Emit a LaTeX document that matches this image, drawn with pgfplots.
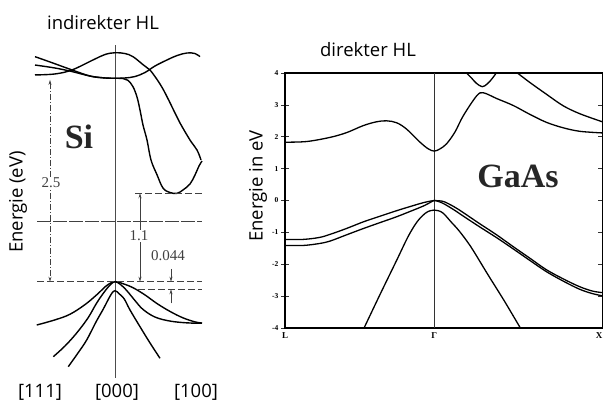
\documentclass[border=0pt]{standalone}
\usepackage{fontspec}
\setmainfont{Open Sans}
\newfontfamily\tnr{Liberation Serif}
\usepackage{pgfplots}
\pgfplotsset{compat=1.18}
\usetikzlibrary{arrows.meta}
\tikzset{band/.style={black,line width=1.4pt,smooth,tension=0.6},
         gband/.style={black,line width=1.3pt,smooth,tension=0.55},
         ann/.style={line width=0.7pt,black!75}}
\begin{document}
\begin{tikzpicture}
\useasboundingbox (0pt,0pt) rectangle (603pt,405pt);
% ---------------- Si ----------------
\begin{axis}[at={(0pt,0pt)},anchor=south west,width=210pt,height=405pt,scale only axis,
  hide axis,clip=false,xmin=-115,xmax=95,ymin=-1.534,ymax=3.504]
% vertical Gamma line
\draw[line width=0.6pt,black!70] (axis cs:0,2.94) -- (axis cs:0,-1.198);
% conduction bands
\addplot[band] coordinates {(-80,2.799) (-65,2.733) (-43,2.634) (-25,2.558) (-12,2.536) (0,2.530)};
\addplot[band] coordinates {(-80,2.695) (-60,2.658) (-43,2.614) (-25,2.558) (-10,2.534) (0,2.530)};
\addplot[band] coordinates {(-80,2.572) (-60,2.584) (-43,2.634) (-22,2.758) (-10,2.826) (0,2.848)
  (10,2.838) (18,2.799) (28,2.70) (35,2.633) (45,2.459) (52,2.301) (60,2.098) (65,1.974) (75,1.762) (82,1.638) (86,1.514)};
\addplot[band] coordinates {(0,2.530) (8,2.527) (13,2.505) (18,2.425) (22,2.297) (25,2.136) (28,1.949) (32,1.762)
  (36,1.514) (42,1.330) (48,1.165) (55,1.109) (62,1.099) (68,1.141) (75,1.215) (80,1.327) (84,1.439) (87,1.501)};
\addplot[band] coordinates {(0,2.530) (10,2.534) (20,2.552) (30,2.602) (40,2.683) (52,2.758) (62,2.813) (72,2.845) (80,2.838) (85,2.799)};
% valence bands
\addplot[band] coordinates {(-78.3,-0.539) (-60,-0.475) (-45,-0.405) (-30,-0.285) (-18,-0.160) (-8,-0.045) (0,0)
  (8,-0.025) (18,-0.075) (30,-0.165) (42,-0.272) (55,-0.370) (68,-0.450) (80,-0.500) (87,-0.514)};
\addplot[band] coordinates {(-61.7,-0.933) (-50,-0.800) (-38.3,-0.638) (-27,-0.451) (-18.3,-0.265) (-10,-0.116) (-4,-0.030) (0,0)
  (5,-0.030) (11.7,-0.110) (20,-0.235) (28,-0.345) (40,-0.440) (55,-0.490) (71.7,-0.512) (87,-0.517)};
\addplot[band] coordinates {(-46.7,-1.057) (-37,-0.887) (-28.3,-0.725) (-19,-0.501) (-11.7,-0.340) (-4,-0.160) (0,-0.112)
  (4,-0.150) (9,-0.210) (15,-0.352) (25,-0.560) (35,-0.762) (45,-0.953)};
% reference levels
\draw[ann,dash pattern=on 7pt off 3pt] (axis cs:-78,0) -- (axis cs:87,0);
\draw[ann,dash pattern=on 7pt off 3pt] (axis cs:20,1.1) -- (axis cs:87,1.1);
\draw[ann,dash pattern=on 7pt off 3pt] (axis cs:23,-0.095) -- (axis cs:87,-0.095);
\draw[ann,dash pattern=on 14pt off 2pt] (axis cs:-78,0.755) -- (axis cs:87,0.755);
\draw[ann,dash pattern=on 6pt off 2pt on 1pt off 2pt,{Stealth[length=5pt,width=3pt]}-{Stealth[length=5pt,width=3pt]}] (axis cs:-65,2.51) -- (axis cs:-65,0);
\draw[ann,{Stealth[length=5pt,width=3pt]}-{Stealth[length=5pt,width=3pt]}] (axis cs:25,1.1) -- (axis cs:25,0);
\draw[ann,-{Stealth[length=5pt,width=3pt]}] (axis cs:56,0.16) -- (axis cs:56,0);
\draw[ann,-{Stealth[length=5pt,width=3pt]}] (axis cs:56,-0.27) -- (axis cs:56,-0.095);
\end{axis}
% ---------------- GaAs ----------------
\begin{axis}[at={(285pt,77pt)},anchor=south west,width=317.3pt,height=255pt,scale only axis,
  xmin=-149.3,xmax=168,ymin=-4,ymax=4,
  xtick={-149.3,0,168},xticklabels={{\tnr\bfseries L},{\tnr\bfseries Γ},{\tnr\bfseries\makebox[0pt][r]{X}}},
  xtick style={draw=none},
  ytick={-4,-3,-2,-1,0,1,2,3,4},
  tick align=center,major tick length=8pt,
  ytick style={line width=0.6pt,black!80},
  axis line style={line width=1.1pt},
  /pgf/number format/assume math mode=true,
  yticklabel style={font=\tnr\bfseries\fontsize{7.5}{8}\selectfont,xshift=1pt},
  xticklabel style={font=\fontsize{9}{9}\selectfont,yshift=3pt}]
\draw[line width=0.6pt,black!80] (axis cs:0,-4) -- (axis cs:0,4);
% conduction bands
\addplot[gband] coordinates {(-149.3,1.83) (-127.7,1.85) (-104.3,1.98) (-87.7,2.13) (-71,2.35) (-57.7,2.47) (-47.7,2.50)
  (-37.7,2.44) (-27.7,2.24) (-14.3,1.83) (-6,1.62) (0,1.55) (5.7,1.62) (12.3,1.78) (20.7,2.15) (29,2.66) (42.3,3.28) (49,3.38)
  (62.3,3.20) (79,2.98) (95.7,2.70) (112.3,2.45) (129,2.28) (145.7,2.17) (168,2.12)};
\addplot[gband] coordinates {(30.7,4.05) (37,3.85) (42,3.68) (48,3.57) (53,3.66) (58,3.83) (63,4.05)};
\addplot[gband] coordinates {(82.3,4.02) (95.7,3.70) (112.3,3.33) (129,2.97) (145.7,2.72) (168,2.47)};
% valence bands
\addplot[gband] coordinates {(-149.3,-1.22) (-131,-1.22) (-115,-1.16) (-104,-1.06) (-88,-0.88) (-71,-0.67) (-54,-0.49)
  (-37.7,-0.32) (-20,-0.15) (-10,-0.06) (0,0) (5,-0.01) (10,-0.04) (20,-0.20) (29,-0.38) (45,-0.72) (62,-1.07) (79,-1.45)
  (96,-1.82) (112,-2.17) (129,-2.46) (145,-2.70) (158,-2.84) (168,-2.89)};
\addplot[gband] coordinates {(-149.3,-1.41) (-131,-1.41) (-115,-1.35) (-104,-1.27) (-88,-1.08) (-71,-0.88) (-54,-0.69)
  (-37.7,-0.51) (-20,-0.29) (-10,-0.16) (-4,-0.06) (0,0) (5,-0.04) (10,-0.11) (20,-0.30) (29,-0.49) (45,-0.82) (62,-1.16)
  (79,-1.52) (96,-1.89) (112,-2.23) (129,-2.53) (145,-2.78) (158,-2.92) (168,-2.99)};
\addplot[gband] coordinates {(-71,-4.05) (-54.3,-2.95) (-37.7,-1.88) (-26,-1.12) (-17,-0.66) (-9,-0.40) (-4,-0.32) (0,-0.30)
  (4,-0.32) (9,-0.40) (17,-0.68) (25,-0.96) (36.7,-1.46) (53.3,-2.31) (70,-3.15) (87,-4.05)};
\end{axis}
% ---------------- texts ----------------
\node[font=\fontsize{18.5}{20}\selectfont] at (103pt,382pt) {indirekter HL};
\node[font=\fontsize{18.5}{20}\selectfont] at (368pt,355pt) {direkter HL};
\node[font=\fontsize{18.5}{20}\selectfont,rotate=90] at (18pt,203pt) {Energie (eV)};
\node[font=\fontsize{18.5}{20}\selectfont,rotate=90] at (258pt,219pt) {Energie in eV};
\node[font=\tnr\bfseries\fontsize{34}{36}\selectfont,text=black!85] at (79pt,268pt) {Si};
\node[font=\tnr\bfseries\fontsize{34}{36}\selectfont,text=black!85] at (518pt,229pt) {GaAs};
\node[font=\fontsize{18.5}{20}\selectfont] at (40pt,13pt) {[111]};
\node[font=\fontsize{18.5}{20}\selectfont] at (117pt,13pt) {[000]};
\node[font=\fontsize{18.5}{20}\selectfont] at (196pt,13pt) {[100]};
\node[font=\tnr\fontsize{15}{16}\selectfont,fill=white,inner sep=1pt,text=black!75] at (51pt,222pt) {2.5};
\node[font=\tnr\fontsize{15}{16}\selectfont,fill=white,inner sep=1pt,text=black!75] at (139pt,169pt) {1.1};
\node[font=\tnr\fontsize{15}{16}\selectfont,inner sep=1pt,text=black!75] at (168pt,149pt) {0.044};
\end{tikzpicture}
\end{document}
